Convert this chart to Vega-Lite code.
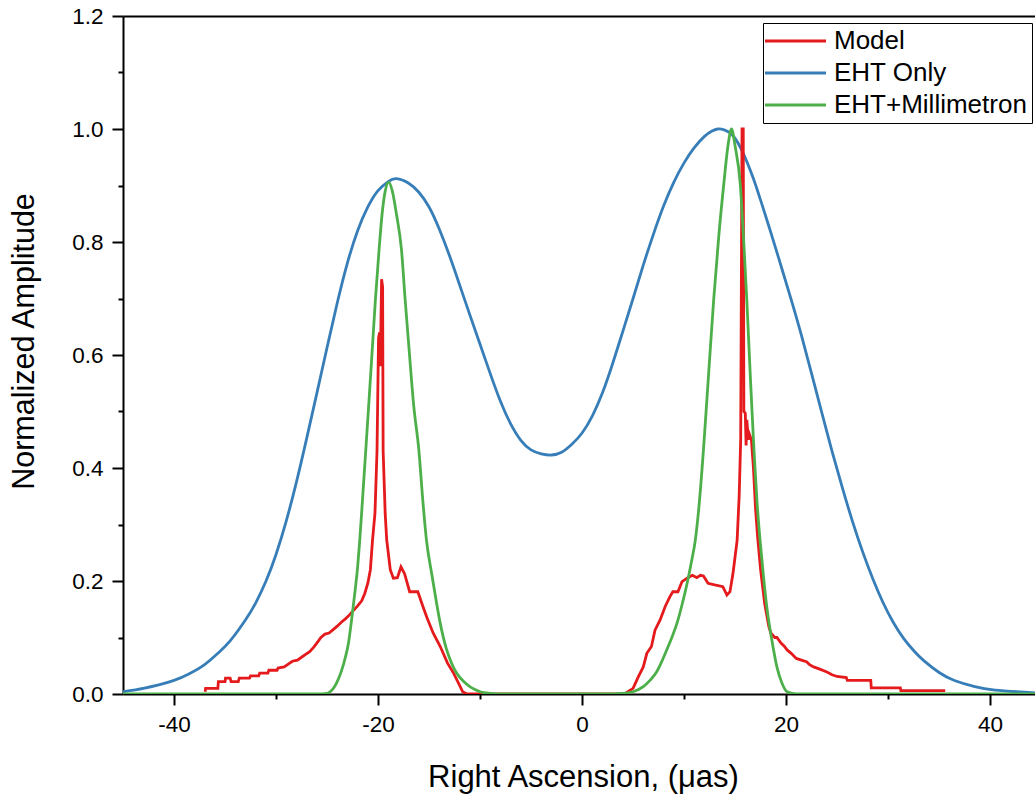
{
  "$schema": "https://vega.github.io/schema/vega-lite/v6.json",
  "width": 912,
  "height": 678,
  "autosize": {"type": "none"},
  "padding": {"left": 123, "top": 16, "right": 0, "bottom": 100},
  "background": "white",
  "config": {
    "view": {"stroke": null},
    "font": "Liberation Sans",
    "axis": {"grid": false, "domainColor": "black", "tickColor": "black", "labelColor": "black", "titleColor": "black", "domainWidth": 2, "tickWidth": 2, "labelFont": "Liberation Sans", "titleFont": "Liberation Sans", "titleFontWeight": "normal"}
  },
  "data": {
    "values": [
      {"s": "EHT Only", "x": -45.0, "y": 0.004},
      {"s": "EHT Only", "x": -43.0, "y": 0.010},
      {"s": "EHT Only", "x": -41.5, "y": 0.016},
      {"s": "EHT Only", "x": -40.0, "y": 0.024},
      {"s": "EHT Only", "x": -38.5, "y": 0.036},
      {"s": "EHT Only", "x": -37.0, "y": 0.052},
      {"s": "EHT Only", "x": -35.7, "y": 0.072},
      {"s": "EHT Only", "x": -34.5, "y": 0.094},
      {"s": "EHT Only", "x": -33.0, "y": 0.131},
      {"s": "EHT Only", "x": -32.0, "y": 0.161},
      {"s": "EHT Only", "x": -31.0, "y": 0.199},
      {"s": "EHT Only", "x": -30.0, "y": 0.247},
      {"s": "EHT Only", "x": -29.0, "y": 0.306},
      {"s": "EHT Only", "x": -28.0, "y": 0.375},
      {"s": "EHT Only", "x": -27.0, "y": 0.452},
      {"s": "EHT Only", "x": -26.0, "y": 0.532},
      {"s": "EHT Only", "x": -25.0, "y": 0.613},
      {"s": "EHT Only", "x": -24.0, "y": 0.692},
      {"s": "EHT Only", "x": -23.0, "y": 0.763},
      {"s": "EHT Only", "x": -22.0, "y": 0.82},
      {"s": "EHT Only", "x": -21.0, "y": 0.862},
      {"s": "EHT Only", "x": -20.0, "y": 0.891},
      {"s": "EHT Only", "x": -19.0, "y": 0.907},
      {"s": "EHT Only", "x": -18.2, "y": 0.912},
      {"s": "EHT Only", "x": -17.0, "y": 0.904},
      {"s": "EHT Only", "x": -16.0, "y": 0.888},
      {"s": "EHT Only", "x": -15.0, "y": 0.862},
      {"s": "EHT Only", "x": -14.0, "y": 0.823},
      {"s": "EHT Only", "x": -13.0, "y": 0.776},
      {"s": "EHT Only", "x": -12.0, "y": 0.724},
      {"s": "EHT Only", "x": -11.0, "y": 0.671},
      {"s": "EHT Only", "x": -10.0, "y": 0.619},
      {"s": "EHT Only", "x": -9.0, "y": 0.567},
      {"s": "EHT Only", "x": -8.0, "y": 0.518},
      {"s": "EHT Only", "x": -7.0, "y": 0.478},
      {"s": "EHT Only", "x": -6.0, "y": 0.449},
      {"s": "EHT Only", "x": -5.0, "y": 0.432},
      {"s": "EHT Only", "x": -4.0, "y": 0.425},
      {"s": "EHT Only", "x": -3.0, "y": 0.423},
      {"s": "EHT Only", "x": -2.0, "y": 0.428},
      {"s": "EHT Only", "x": -1.0, "y": 0.442},
      {"s": "EHT Only", "x": 0.0, "y": 0.462},
      {"s": "EHT Only", "x": 1.0, "y": 0.492},
      {"s": "EHT Only", "x": 2.0, "y": 0.533},
      {"s": "EHT Only", "x": 3.0, "y": 0.585},
      {"s": "EHT Only", "x": 4.0, "y": 0.642},
      {"s": "EHT Only", "x": 5.0, "y": 0.70},
      {"s": "EHT Only", "x": 6.0, "y": 0.759},
      {"s": "EHT Only", "x": 7.0, "y": 0.814},
      {"s": "EHT Only", "x": 8.0, "y": 0.864},
      {"s": "EHT Only", "x": 9.0, "y": 0.906},
      {"s": "EHT Only", "x": 10.0, "y": 0.94},
      {"s": "EHT Only", "x": 11.0, "y": 0.967},
      {"s": "EHT Only", "x": 12.0, "y": 0.987},
      {"s": "EHT Only", "x": 12.7, "y": 0.996},
      {"s": "EHT Only", "x": 13.3, "y": 1.0},
      {"s": "EHT Only", "x": 14.0, "y": 0.998},
      {"s": "EHT Only", "x": 14.8, "y": 0.988},
      {"s": "EHT Only", "x": 15.8, "y": 0.957},
      {"s": "EHT Only", "x": 16.8, "y": 0.912},
      {"s": "EHT Only", "x": 17.5, "y": 0.874},
      {"s": "EHT Only", "x": 18.5, "y": 0.817},
      {"s": "EHT Only", "x": 19.5, "y": 0.758},
      {"s": "EHT Only", "x": 20.5, "y": 0.698},
      {"s": "EHT Only", "x": 21.5, "y": 0.635},
      {"s": "EHT Only", "x": 22.5, "y": 0.567},
      {"s": "EHT Only", "x": 23.5, "y": 0.498},
      {"s": "EHT Only", "x": 24.5, "y": 0.43},
      {"s": "EHT Only", "x": 25.5, "y": 0.366},
      {"s": "EHT Only", "x": 26.5, "y": 0.306},
      {"s": "EHT Only", "x": 27.5, "y": 0.252},
      {"s": "EHT Only", "x": 28.5, "y": 0.204},
      {"s": "EHT Only", "x": 29.5, "y": 0.162},
      {"s": "EHT Only", "x": 30.5, "y": 0.127},
      {"s": "EHT Only", "x": 31.5, "y": 0.099},
      {"s": "EHT Only", "x": 32.5, "y": 0.077},
      {"s": "EHT Only", "x": 33.5, "y": 0.059},
      {"s": "EHT Only", "x": 35.0, "y": 0.038},
      {"s": "EHT Only", "x": 36.5, "y": 0.024},
      {"s": "EHT Only", "x": 38.5, "y": 0.013},
      {"s": "EHT Only", "x": 40.5, "y": 0.007},
      {"s": "EHT Only", "x": 44.4, "y": 0.002},

      {"s": "Model", "x": -36.95, "y": 0.004},
      {"s": "Model", "x": -36.9, "y": 0.01},
      {"s": "Model", "x": -35.7, "y": 0.01},
      {"s": "Model", "x": -35.65, "y": 0.022},
      {"s": "Model", "x": -35.0, "y": 0.022},
      {"s": "Model", "x": -34.95, "y": 0.028},
      {"s": "Model", "x": -34.5, "y": 0.028},
      {"s": "Model", "x": -34.4, "y": 0.022},
      {"s": "Model", "x": -33.7, "y": 0.022},
      {"s": "Model", "x": -33.6, "y": 0.028},
      {"s": "Model", "x": -32.6, "y": 0.028},
      {"s": "Model", "x": -32.5, "y": 0.032},
      {"s": "Model", "x": -31.7, "y": 0.032},
      {"s": "Model", "x": -31.6, "y": 0.037},
      {"s": "Model", "x": -30.8, "y": 0.037},
      {"s": "Model", "x": -30.7, "y": 0.042},
      {"s": "Model", "x": -29.9, "y": 0.042},
      {"s": "Model", "x": -29.8, "y": 0.046},
      {"s": "Model", "x": -29.2, "y": 0.048},
      {"s": "Model", "x": -28.8, "y": 0.053},
      {"s": "Model", "x": -28.4, "y": 0.058},
      {"s": "Model", "x": -27.9, "y": 0.06},
      {"s": "Model", "x": -27.5, "y": 0.065},
      {"s": "Model", "x": -27.1, "y": 0.07},
      {"s": "Model", "x": -26.7, "y": 0.075},
      {"s": "Model", "x": -26.3, "y": 0.083},
      {"s": "Model", "x": -26.0, "y": 0.09},
      {"s": "Model", "x": -25.6, "y": 0.1},
      {"s": "Model", "x": -25.2, "y": 0.106},
      {"s": "Model", "x": -24.8, "y": 0.108},
      {"s": "Model", "x": -24.4, "y": 0.114},
      {"s": "Model", "x": -24.0, "y": 0.12},
      {"s": "Model", "x": -23.6, "y": 0.127},
      {"s": "Model", "x": -23.2, "y": 0.133},
      {"s": "Model", "x": -22.8, "y": 0.14},
      {"s": "Model", "x": -22.4, "y": 0.148},
      {"s": "Model", "x": -22.0, "y": 0.156},
      {"s": "Model", "x": -21.6, "y": 0.165},
      {"s": "Model", "x": -21.3, "y": 0.178},
      {"s": "Model", "x": -21.0, "y": 0.196},
      {"s": "Model", "x": -20.75, "y": 0.22},
      {"s": "Model", "x": -20.55, "y": 0.27},
      {"s": "Model", "x": -20.3, "y": 0.32},
      {"s": "Model", "x": -20.1, "y": 0.43},
      {"s": "Model", "x": -19.95, "y": 0.63},
      {"s": "Model", "x": -19.85, "y": 0.64},
      {"s": "Model", "x": -19.78, "y": 0.58},
      {"s": "Model", "x": -19.65, "y": 0.734},
      {"s": "Model", "x": -19.55, "y": 0.72},
      {"s": "Model", "x": -19.5, "y": 0.43},
      {"s": "Model", "x": -19.3, "y": 0.32},
      {"s": "Model", "x": -19.15, "y": 0.273},
      {"s": "Model", "x": -18.8, "y": 0.22},
      {"s": "Model", "x": -18.5, "y": 0.205},
      {"s": "Model", "x": -18.1, "y": 0.206},
      {"s": "Model", "x": -17.75, "y": 0.225},
      {"s": "Model", "x": -17.4, "y": 0.213},
      {"s": "Model", "x": -16.9, "y": 0.181},
      {"s": "Model", "x": -16.1, "y": 0.181},
      {"s": "Model", "x": -15.6, "y": 0.155},
      {"s": "Model", "x": -15.2, "y": 0.135},
      {"s": "Model", "x": -14.6, "y": 0.108},
      {"s": "Model", "x": -13.9, "y": 0.084},
      {"s": "Model", "x": -13.2, "y": 0.055},
      {"s": "Model", "x": -12.6, "y": 0.037},
      {"s": "Model", "x": -12.1, "y": 0.019},
      {"s": "Model", "x": -11.7, "y": 0.004},
      {"s": "Model", "x": -11.3, "y": 0.0},
      {"s": "Model", "x": 4.2, "y": 0.0},
      {"s": "Model", "x": 4.5, "y": 0.004},
      {"s": "Model", "x": 5.0, "y": 0.01},
      {"s": "Model", "x": 5.5, "y": 0.03},
      {"s": "Model", "x": 6.0, "y": 0.048},
      {"s": "Model", "x": 6.35, "y": 0.072},
      {"s": "Model", "x": 6.8, "y": 0.084},
      {"s": "Model", "x": 7.15, "y": 0.113},
      {"s": "Model", "x": 7.65, "y": 0.131},
      {"s": "Model", "x": 8.15, "y": 0.155},
      {"s": "Model", "x": 8.6, "y": 0.172},
      {"s": "Model", "x": 8.9, "y": 0.181},
      {"s": "Model", "x": 9.4, "y": 0.181},
      {"s": "Model", "x": 9.8, "y": 0.199},
      {"s": "Model", "x": 10.3, "y": 0.205},
      {"s": "Model", "x": 10.8, "y": 0.21},
      {"s": "Model", "x": 11.25, "y": 0.206},
      {"s": "Model", "x": 11.6, "y": 0.21},
      {"s": "Model", "x": 11.9, "y": 0.209},
      {"s": "Model", "x": 12.35, "y": 0.196},
      {"s": "Model", "x": 13.0, "y": 0.193},
      {"s": "Model", "x": 13.8, "y": 0.19},
      {"s": "Model", "x": 14.2, "y": 0.175},
      {"s": "Model", "x": 14.5, "y": 0.181},
      {"s": "Model", "x": 14.8, "y": 0.214},
      {"s": "Model", "x": 15.2, "y": 0.272},
      {"s": "Model", "x": 15.4, "y": 0.35},
      {"s": "Model", "x": 15.55, "y": 0.45},
      {"s": "Model", "x": 15.68, "y": 1.0},
      {"s": "Model", "x": 15.8, "y": 1.0},
      {"s": "Model", "x": 15.86, "y": 0.5},
      {"s": "Model", "x": 16.0, "y": 0.497},
      {"s": "Model", "x": 16.08, "y": 0.44},
      {"s": "Model", "x": 16.15, "y": 0.485},
      {"s": "Model", "x": 16.3, "y": 0.45},
      {"s": "Model", "x": 16.4, "y": 0.46},
      {"s": "Model", "x": 16.6, "y": 0.45},
      {"s": "Model", "x": 16.8, "y": 0.4},
      {"s": "Model", "x": 17.0, "y": 0.33},
      {"s": "Model", "x": 17.2, "y": 0.28},
      {"s": "Model", "x": 17.5, "y": 0.22},
      {"s": "Model", "x": 17.9, "y": 0.16},
      {"s": "Model", "x": 18.3, "y": 0.12},
      {"s": "Model", "x": 18.5, "y": 0.108},
      {"s": "Model", "x": 18.9, "y": 0.1},
      {"s": "Model", "x": 19.1, "y": 0.1},
      {"s": "Model", "x": 19.5, "y": 0.09},
      {"s": "Model", "x": 19.8, "y": 0.085},
      {"s": "Model", "x": 20.1, "y": 0.078},
      {"s": "Model", "x": 20.5, "y": 0.072},
      {"s": "Model", "x": 21.0, "y": 0.063},
      {"s": "Model", "x": 21.5, "y": 0.06},
      {"s": "Model", "x": 22.0, "y": 0.057},
      {"s": "Model", "x": 22.3, "y": 0.052},
      {"s": "Model", "x": 22.7, "y": 0.048},
      {"s": "Model", "x": 23.3, "y": 0.044},
      {"s": "Model", "x": 24.0, "y": 0.039},
      {"s": "Model", "x": 24.5, "y": 0.034},
      {"s": "Model", "x": 25.0, "y": 0.031},
      {"s": "Model", "x": 25.9, "y": 0.029},
      {"s": "Model", "x": 26.0, "y": 0.024},
      {"s": "Model", "x": 28.3, "y": 0.024},
      {"s": "Model", "x": 28.35, "y": 0.011},
      {"s": "Model", "x": 31.2, "y": 0.011},
      {"s": "Model", "x": 31.25, "y": 0.006},
      {"s": "Model", "x": 35.6, "y": 0.006},

      {"s": "EHT+Millimetron", "x": -45.0, "y": 0.0},
      {"s": "EHT+Millimetron", "x": -26.0, "y": 0.0},
      {"s": "EHT+Millimetron", "x": -25.0, "y": 0.001},
      {"s": "EHT+Millimetron", "x": -24.7, "y": 0.004},
      {"s": "EHT+Millimetron", "x": -24.3, "y": 0.012},
      {"s": "EHT+Millimetron", "x": -24.0, "y": 0.022},
      {"s": "EHT+Millimetron", "x": -23.6, "y": 0.04},
      {"s": "EHT+Millimetron", "x": -23.2, "y": 0.065},
      {"s": "EHT+Millimetron", "x": -22.9, "y": 0.09},
      {"s": "EHT+Millimetron", "x": -22.6, "y": 0.13},
      {"s": "EHT+Millimetron", "x": -22.3, "y": 0.175},
      {"s": "EHT+Millimetron", "x": -22.0, "y": 0.225},
      {"s": "EHT+Millimetron", "x": -21.8, "y": 0.27},
      {"s": "EHT+Millimetron", "x": -21.5, "y": 0.35},
      {"s": "EHT+Millimetron", "x": -21.2, "y": 0.432},
      {"s": "EHT+Millimetron", "x": -20.9, "y": 0.515},
      {"s": "EHT+Millimetron", "x": -20.6, "y": 0.6},
      {"s": "EHT+Millimetron", "x": -20.25, "y": 0.7},
      {"s": "EHT+Millimetron", "x": -19.9, "y": 0.786},
      {"s": "EHT+Millimetron", "x": -19.6, "y": 0.85},
      {"s": "EHT+Millimetron", "x": -19.3, "y": 0.89},
      {"s": "EHT+Millimetron", "x": -18.95, "y": 0.906},
      {"s": "EHT+Millimetron", "x": -18.6, "y": 0.89},
      {"s": "EHT+Millimetron", "x": -18.2, "y": 0.85},
      {"s": "EHT+Millimetron", "x": -17.7, "y": 0.786},
      {"s": "EHT+Millimetron", "x": -17.35, "y": 0.7},
      {"s": "EHT+Millimetron", "x": -17.0, "y": 0.62},
      {"s": "EHT+Millimetron", "x": -16.5, "y": 0.51},
      {"s": "EHT+Millimetron", "x": -16.0, "y": 0.432},
      {"s": "EHT+Millimetron", "x": -15.6, "y": 0.34},
      {"s": "EHT+Millimetron", "x": -15.25, "y": 0.272},
      {"s": "EHT+Millimetron", "x": -14.75, "y": 0.214},
      {"s": "EHT+Millimetron", "x": -14.3, "y": 0.165},
      {"s": "EHT+Millimetron", "x": -13.9, "y": 0.125},
      {"s": "EHT+Millimetron", "x": -13.3, "y": 0.08},
      {"s": "EHT+Millimetron", "x": -12.8, "y": 0.055},
      {"s": "EHT+Millimetron", "x": -12.3, "y": 0.037},
      {"s": "EHT+Millimetron", "x": -11.6, "y": 0.022},
      {"s": "EHT+Millimetron", "x": -11.0, "y": 0.013},
      {"s": "EHT+Millimetron", "x": -10.5, "y": 0.008},
      {"s": "EHT+Millimetron", "x": -10.0, "y": 0.004},
      {"s": "EHT+Millimetron", "x": -9.0, "y": 0.001},
      {"s": "EHT+Millimetron", "x": -8.0, "y": 0.0},
      {"s": "EHT+Millimetron", "x": 2.0, "y": 0.0},
      {"s": "EHT+Millimetron", "x": 4.0, "y": 0.001},
      {"s": "EHT+Millimetron", "x": 5.0, "y": 0.004},
      {"s": "EHT+Millimetron", "x": 6.0, "y": 0.013},
      {"s": "EHT+Millimetron", "x": 6.7, "y": 0.025},
      {"s": "EHT+Millimetron", "x": 7.3, "y": 0.039},
      {"s": "EHT+Millimetron", "x": 7.8, "y": 0.057},
      {"s": "EHT+Millimetron", "x": 8.3, "y": 0.078},
      {"s": "EHT+Millimetron", "x": 8.8, "y": 0.1},
      {"s": "EHT+Millimetron", "x": 9.3, "y": 0.125},
      {"s": "EHT+Millimetron", "x": 9.8, "y": 0.158},
      {"s": "EHT+Millimetron", "x": 10.3, "y": 0.196},
      {"s": "EHT+Millimetron", "x": 10.7, "y": 0.232},
      {"s": "EHT+Millimetron", "x": 11.1, "y": 0.272},
      {"s": "EHT+Millimetron", "x": 11.5, "y": 0.34},
      {"s": "EHT+Millimetron", "x": 11.9, "y": 0.432},
      {"s": "EHT+Millimetron", "x": 12.4, "y": 0.565},
      {"s": "EHT+Millimetron", "x": 12.9, "y": 0.697},
      {"s": "EHT+Millimetron", "x": 13.4, "y": 0.81},
      {"s": "EHT+Millimetron", "x": 13.9, "y": 0.904},
      {"s": "EHT+Millimetron", "x": 14.3, "y": 0.97},
      {"s": "EHT+Millimetron", "x": 14.65, "y": 1.0},
      {"s": "EHT+Millimetron", "x": 15.0, "y": 0.97},
      {"s": "EHT+Millimetron", "x": 15.5, "y": 0.904},
      {"s": "EHT+Millimetron", "x": 15.85, "y": 0.8},
      {"s": "EHT+Millimetron", "x": 16.15, "y": 0.697},
      {"s": "EHT+Millimetron", "x": 16.5, "y": 0.56},
      {"s": "EHT+Millimetron", "x": 16.85, "y": 0.432},
      {"s": "EHT+Millimetron", "x": 17.15, "y": 0.34},
      {"s": "EHT+Millimetron", "x": 17.45, "y": 0.272},
      {"s": "EHT+Millimetron", "x": 17.8, "y": 0.205},
      {"s": "EHT+Millimetron", "x": 18.1, "y": 0.155},
      {"s": "EHT+Millimetron", "x": 18.6, "y": 0.096},
      {"s": "EHT+Millimetron", "x": 19.1, "y": 0.048},
      {"s": "EHT+Millimetron", "x": 19.6, "y": 0.019},
      {"s": "EHT+Millimetron", "x": 20.1, "y": 0.004},
      {"s": "EHT+Millimetron", "x": 21.0, "y": 0.0},
      {"s": "EHT+Millimetron", "x": 44.4, "y": 0.0}
    ]
  },
  "resolve": {"axis": {"x": "independent", "y": "independent"}},
  "layer": [
    {
      "transform": [{"filter": "datum.s === 'EHT Only'"}],
      "mark": {"type": "line", "strokeWidth": 2.8, "interpolate": "natural", "clip": true},
      "encoding": {
        "x": {"field": "x", "type": "quantitative", "scale": {"domain": [-45, 44.4], "nice": false, "zero": false},
          "axis": {"orient": "bottom", "values": [-40, -20, 0, 20, 40], "labelExpr": "'' + datum.value", "tickSize": 11, "labelFontSize": 22.5, "labelPadding": 8, "title": "Right Ascension, (μas)", "titleFontSize": 31, "titleBaseline": "alphabetic", "titleX": 460, "titleY": 92}},
        "y": {"field": "y", "type": "quantitative", "scale": {"domain": [0, 1.2], "nice": false},
          "axis": {"orient": "left", "values": [0, 0.2, 0.4, 0.6, 0.8, 1.0, 1.2], "format": ".1f", "tickSize": 11, "labelFontSize": 22.5, "labelPadding": 9, "title": "Normalized Amplitude", "titleFontSize": 30.5, "titleBaseline": "alphabetic", "titleX": -90, "titleY": 325}},
        "color": {"field": "s", "type": "nominal", "sort": null,
          "scale": {"domain": ["Model", "EHT Only", "EHT+Millimetron"], "range": ["#e41a1c", "#377eb8", "#4daf4a"]},
          "legend": {"title": null, "orient": "none", "legendX": 640, "legendY": 7, "strokeColor": "black", "padding": 5, "symbolType": "M-1.6,0H4.5", "symbolSize": 400, "symbolStrokeWidth": 3, "symbolFillColor": "transparent", "labelFontSize": 26, "labelFont": "Liberation Sans", "labelColor": "black", "labelOffset": 40, "rowPadding": 6, "labelLimit": 0}}
      }
    },
    {
      "transform": [{"filter": "datum.s === 'Model'"}],
      "mark": {"type": "line", "strokeWidth": 2.8, "clip": true},
      "encoding": {
        "x": {"field": "x", "type": "quantitative", "axis": null},
        "y": {"field": "y", "type": "quantitative", "axis": null},
        "color": {"field": "s", "type": "nominal"}
      }
    },
    {
      "transform": [{"filter": "datum.s === 'EHT+Millimetron'"}],
      "mark": {"type": "line", "strokeWidth": 2.8, "interpolate": "monotone", "clip": true},
      "encoding": {
        "x": {"field": "x", "type": "quantitative", "axis": null},
        "y": {"field": "y", "type": "quantitative", "axis": null},
        "color": {"field": "s", "type": "nominal"}
      }
    },
    {
      "transform": [{"filter": "datum.s === 'EHT Only'"}],
      "mark": {"type": "line", "strokeOpacity": 0},
      "encoding": {
        "x": {"field": "x", "type": "quantitative", "axis": {"orient": "top", "ticks": false, "labels": false, "title": null, "domain": true}},
        "y": {"field": "y", "type": "quantitative", "axis": {"orient": "left", "values": [0.1, 0.3, 0.5, 0.7, 0.9, 1.1], "tickSize": 5, "labels": false, "domain": false, "title": null}}
      }
    },
    {
      "transform": [{"filter": "datum.s === 'EHT Only'"}],
      "mark": {"type": "line", "strokeOpacity": 0},
      "encoding": {
        "x": {"field": "x", "type": "quantitative", "axis": {"orient": "bottom", "values": [-30, -10, 10, 30], "tickSize": 5, "labels": false, "domain": false, "title": null}},
        "y": {"field": "y", "type": "quantitative", "axis": null}
      }
    }
  ]
}
